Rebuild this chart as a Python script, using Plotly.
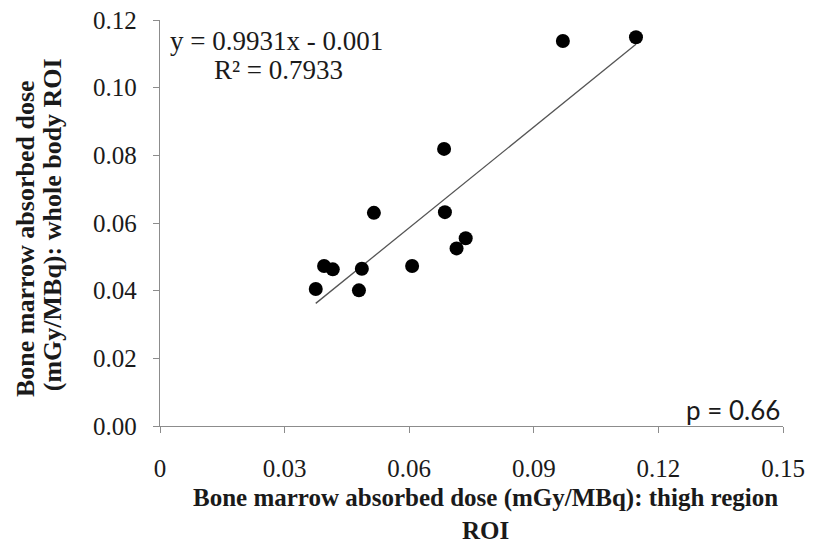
import plotly.graph_objects as go

# Data
thigh_roi = [0.0375, 0.0395, 0.0416, 0.0479, 0.0486, 0.0515, 0.0607, 0.0684, 0.0686,
             0.0714, 0.0736, 0.0970, 0.1146]
whole_body_roi = [0.0405, 0.0473, 0.0463, 0.0401, 0.0465, 0.0630, 0.0473, 0.0819, 0.0632,
                  0.0525, 0.0555, 0.1138, 0.1149]
slope = 0.9931
intercept = -0.001
r_squared = 0.7933
p_value = 0.66
x_ticks = [0, 0.03, 0.06, 0.09, 0.12, 0.15]
x_tick_labels = ["0", "0.03", "0.06", "0.09", "0.12", "0.15"]
y_ticks = [0, 0.02, 0.04, 0.06, 0.08, 0.10, 0.12]
y_tick_labels = ["0.00", "0.02", "0.04", "0.06", "0.08", "0.10", "0.12"]

serif = "Liberation Serif, Times New Roman, serif"
txt = "#1a1a1a"

x_min, x_max = min(thigh_roi), max(thigh_roi)
trend_x = [x_min, x_max]
trend_y = [slope * v + intercept for v in trend_x]

fig = go.Figure()
fig.add_trace(go.Scatter(x=trend_x, y=trend_y, mode="lines",
                         line=dict(color="#555555", width=1.3), hoverinfo="skip"))
fig.add_trace(go.Scatter(x=thigh_roi, y=whole_body_roi, mode="markers",
                         marker=dict(color="black", size=14)))

axis_common = dict(showgrid=False, zeroline=False, showline=True, linecolor="#8c8c8c",
                   linewidth=1.3, ticks="outside", tickcolor="#8c8c8c", ticklen=6,
                   tickwidth=1.3, automargin=False,
                   tickfont=dict(family=serif, size=25, color=txt))

fig.update_xaxes(range=[0, 0.15], tickvals=x_ticks, ticktext=x_tick_labels,
                 ticklabelstandoff=14, **axis_common)
fig.update_yaxes(range=[0, 0.12], tickvals=y_ticks, ticktext=y_tick_labels,
                 ticklabelstandoff=11, **axis_common)


def ann(x, y, text, size, xanchor="center", yanchor="middle", family=serif, angle=0,
        align="center"):
    fig.add_annotation(xref="paper", yref="paper", x=x, y=y, xanchor=xanchor,
                       yanchor=yanchor, text=text, showarrow=False, textangle=angle,
                       align=align, font=dict(family=family, size=size, color=txt))


ann(0.0128, 0.948, f"y = {slope}x - {abs(intercept)}", 27, xanchor="left")
ann(0.0835, 0.877, f"R² = {r_squared}", 27, xanchor="left")
ann(0.998, 0.039, f"p = {p_value}", 26, xanchor="right", family="Lato, sans-serif")

ann(0.5217, -0.296, "<b>Bone marrow absorbed dose (mGy/MBq): thigh region<br>ROI</b>", 25,
    yanchor="bottom")
ann(-0.2167, 0.463, "<b>Bone marrow absorbed dose</b>", 26, angle=-90)
ann(-0.173, 0.495, "<b>(mGy/MBq): whole body ROI</b>", 26, angle=-90)

fig.update_layout(width=824, height=547, margin=dict(l=160, r=41, t=20, b=121),
                  plot_bgcolor="white", paper_bgcolor="white", showlegend=False)

fig.write_html("out.html", config={"displayModeBar": False},
               post_script="document.body.style.margin='0';")
